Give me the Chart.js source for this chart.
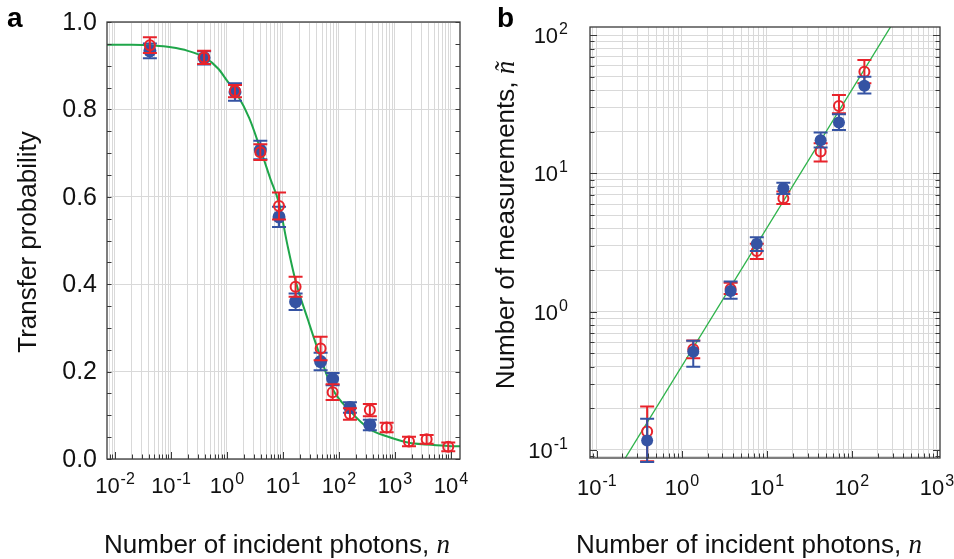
<!DOCTYPE html>
<html>
<head>
<meta charset="utf-8">
<script src="https://cdn.jsdelivr.net/npm/chart.js@4.4.1/dist/chart.umd.min.js"></script>
<style>
  body { margin: 0; background: #fff; }
  #wrap { position: relative; width: 954px; height: 559px; }
  canvas { position: absolute; top: 0; }
</style>
</head>
<body>
<div id="wrap">
  <canvas id="chartA" width="477" height="559" style="left:0"></canvas>
  <canvas id="chartB" width="477" height="559" style="left:477px"></canvas>
</div>
<script>
// ---- panel a: transfer probability vs incident photons
const aRedN = [0.042, 0.39, 1.39, 3.94, 8.5, 16.8, 47, 77, 157, 356, 710, 1780, 3680, 8950]
const aRedP = [0.947, 0.919, 0.842, 0.702, 0.579, 0.394, 0.253, 0.153, 0.103, 0.112, 0.072, 0.040, 0.045, 0.028]
const aRedErr = [0.018, 0.015, 0.014, 0.018, 0.031, 0.023, 0.027, 0.018, 0.013, 0.014, 0.011, 0.011, 0.010, 0.010]
const aBlueN = [0.042, 0.39, 1.39, 3.94, 8.5, 16.8, 47, 77, 157, 356]
const aBlueP = [0.934, 0.918, 0.840, 0.707, 0.554, 0.360, 0.223, 0.183, 0.118, 0.078]
const aBlueErr = [0.017, 0.015, 0.020, 0.021, 0.023, 0.019, 0.020, 0.014, 0.012, 0.012]
const aCurveN = [0.0072, 0.02, 0.05, 0.1, 0.2, 0.4, 0.7, 1, 1.5, 2.5, 4, 6, 8.5, 12, 17, 28, 47, 77, 157, 356, 710, 1780, 3680, 8950, 14500]
const aCurveP = [0.948, 0.948, 0.946, 0.942, 0.934, 0.919, 0.893, 0.866, 0.835, 0.78, 0.707, 0.64, 0.585, 0.49, 0.405, 0.318, 0.232, 0.16, 0.11, 0.068, 0.052, 0.037, 0.033, 0.03, 0.029]
const aYTicks = [0, 0.2, 0.4, 0.6, 0.8, 1.0]
const aYTickLabels = ['0.0', '0.2', '0.4', '0.6', '0.8', '1.0']
const aXTickExps = [-2, -1, 0, 1, 2, 3, 4]

// ---- panel b: number of measurements vs incident photons
const bN = [0.39, 1.36, 3.74, 7.6, 15.6, 42.8, 70.3, 140]
const bRedM = [0.136, 0.535, 1.46, 2.75, 6.6, 14.4, 30.7, 54.4]
const bRedLo = [0.083, 0.46, 1.34, 2.4, 6.0, 12.2, 27.2, 44.8]
const bRedHi = [0.206, 0.62, 1.62, 3.1, 7.4, 16.5, 36.9, 66]
const bBlueM = [0.117, 0.514, 1.41, 3.1, 7.8, 17.4, 23.3, 43]
const bBlueLo = [0.082, 0.40, 1.24, 2.75, 7.1, 15.4, 20.6, 37.9]
const bBlueHi = [0.168, 0.617, 1.65, 3.45, 8.57, 19.8, 26.8, 50]
const bFitN = [0.2, 300]
const bFitM = [0.081, 121]
const bXTickExps = [-1, 0, 1, 2, 3]
const bYTickExps = [-1, 0, 1, 2]

const RED = '#e8232b'
const BLUE = '#3553a3'
const GREEN = '#1fa64a'
const GRID = '#d9d9d9'
const AXIS = '#3a3a3a'
const SANS = '"Liberation Sans", Arial, sans-serif'
const SERIF = '"Liberation Serif", "Times New Roman", serif'
const TICK_SIZE = 22
const SUP_SIZE = 16
const TITLE_SIZE = 26

const logTicks = (min, max) => {
    const out = []
    for (let e = Math.floor(Math.log10(min)); e <= Math.ceil(Math.log10(max)); e++) {
        for (let m = 1; m <= 9; m++) {
            const v = m * Math.pow(10, e)
            if (v >= min && v <= max) out.push({ value: v, major: m === 1 })
        }
    }
    return out
}

const toPoints = (xs, ys) => xs.map((x, i) => ({ x, y: ys[i] }))

// error bars drawn just before each dataset's markers
const errorBars = {
    id: 'errorBars',
    beforeDatasetDraw(chart, args) {
        const ds = chart.data.datasets[args.index]
        if (!ds.lo) return
        const { ctx, scales: { x, y } } = chart
        const cap = ds.capWidth || 7
        ctx.save()
        ctx.strokeStyle = ds.barColor
        ctx.lineWidth = 2
        ds.data.forEach((d, i) => {
            const px = x.getPixelForValue(d.x)
            const y0 = y.getPixelForValue(ds.lo[i])
            const y1 = y.getPixelForValue(ds.hi[i])
            ctx.beginPath()
            ctx.moveTo(px, y0)
            ctx.lineTo(px, y1)
            ctx.moveTo(px - cap, y0)
            ctx.lineTo(px + cap, y0)
            ctx.moveTo(px - cap, y1)
            ctx.lineTo(px + cap, y1)
            ctx.stroke()
        })
        ctx.restore()
    }
}

const drawPow = (ctx, exp, x, y, align) => {
    const base = '10'
    const sup = String(exp)
    ctx.font = `${TICK_SIZE}px ${SANS}`
    const wb = ctx.measureText(base).width
    ctx.font = `${SUP_SIZE}px ${SANS}`
    const ws = ctx.measureText(sup).width
    const total = wb + 1 + ws
    const x0 = align === 'center' ? x - total / 2 : x - total
    ctx.textAlign = 'left'
    ctx.textBaseline = 'alphabetic'
    ctx.font = `${TICK_SIZE}px ${SANS}`
    ctx.fillText(base, x0, y)
    ctx.font = `${SUP_SIZE}px ${SANS}`
    ctx.fillText(sup, x0 + wb + 1, y - 9)
}

const drawTitle = (ctx, text, italic, cx, cy, rotate) => {
    ctx.save()
    ctx.translate(cx, cy)
    if (rotate) ctx.rotate(-Math.PI / 2)
    ctx.textBaseline = 'alphabetic'
    ctx.textAlign = 'left'
    ctx.font = `${TITLE_SIZE}px ${SANS}`
    const w1 = ctx.measureText(text).width
    ctx.font = `italic ${TITLE_SIZE + 1}px ${SERIF}`
    const w2 = ctx.measureText(italic).width
    const x0 = -(w1 + w2) / 2
    ctx.font = `${TITLE_SIZE}px ${SANS}`
    ctx.fillText(text, x0, 0)
    ctx.font = `italic ${TITLE_SIZE + 1}px ${SERIF}`
    ctx.fillText(italic, x0 + w1, 0)
    ctx.restore()
}

const createFramePlugin = (cfg) => ({
    id: 'frame',
    afterDraw(chart) {
        const { ctx, chartArea: a, scales: { x, y } } = chart
        ctx.save()
        ctx.strokeStyle = AXIS
        ctx.lineWidth = 1
        ctx.beginPath()
        x.ticks.forEach(t => {
            const px = Math.round(x.getPixelForValue(t.value)) + 0.5
            const len = t.major ? 7 : 4.5
            ctx.moveTo(px, a.bottom)
            ctx.lineTo(px, a.bottom - len)
        })
        y.ticks.forEach(t => {
            const py = Math.round(y.getPixelForValue(t.value)) + 0.5
            const len = t.major ? 7 : 4.5
            ctx.moveTo(a.left, py)
            ctx.lineTo(a.left + len, py)
            ctx.moveTo(a.right, py)
            ctx.lineTo(a.right - len, py)
        })
        ctx.stroke()

        ctx.lineWidth = 1.3
        ctx.strokeRect(a.left, a.top, a.right - a.left, a.bottom - a.top)

        ctx.fillStyle = '#111'
        cfg.xExps.forEach(e => drawPow(ctx, e, x.getPixelForValue(Math.pow(10, e)), cfg.xLabelBase, 'center'))
        if (cfg.yLabels) {
            ctx.font = `25px ${SANS}`
            ctx.textAlign = 'right'
            ctx.textBaseline = 'middle'
            cfg.yTicks.forEach((v, i) => ctx.fillText(cfg.yLabels[i], a.left - 10, y.getPixelForValue(v) + 1))
        } else {
            cfg.yExps.forEach(e => drawPow(ctx, e, a.left - 22, y.getPixelForValue(Math.pow(10, e)) + 8, 'right'))
        }

        drawTitle(ctx, 'Number of incident photons, ', 'n', cfg.xTitleX, 553, false)
        drawTitle(ctx, cfg.yTitle, cfg.yTitleItalic, cfg.yTitleX, cfg.yTitleY, true)

        ctx.font = `bold 28px ${SANS}`
        ctx.textAlign = 'left'
        ctx.textBaseline = 'alphabetic'
        ctx.fillStyle = '#000'
        ctx.fillText(cfg.letter, cfg.letterX, 27)
        ctx.restore()
    }
})

const baseScale = {
    ticks: { display: false },
    border: { display: false }
}

new Chart(document.getElementById('chartA'), {
    type: 'scatter',
    data: {
        datasets: [
            {
                data: toPoints(aRedN, aRedP),
                lo: aRedP.map((p, i) => p - aRedErr[i]),
                hi: aRedP.map((p, i) => p + aRedErr[i]),
                barColor: RED,
                pointRadius: 5,
                borderWidth: 2,
                borderColor: RED,
                backgroundColor: 'rgba(0,0,0,0)'
            },
            {
                data: toPoints(aBlueN, aBlueP),
                lo: aBlueP.map((p, i) => p - aBlueErr[i]),
                hi: aBlueP.map((p, i) => p + aBlueErr[i]),
                barColor: BLUE,
                pointRadius: 6.5,
                borderWidth: 0,
                backgroundColor: BLUE
            },
            {
                data: toPoints(aCurveN, aCurveP),
                showLine: true,
                pointRadius: 0,
                borderColor: GREEN,
                borderWidth: 2,
                cubicInterpolationMode: 'monotone'
            }
        ]
    },
    options: {
        responsive: false,
        animation: false,
        devicePixelRatio: 1,
        layout: { padding: { left: 107, right: 17, top: 22, bottom: 100 } },
        plugins: { legend: { display: false }, tooltip: { enabled: false } },
        scales: {
            x: {
                ...baseScale,
                type: 'logarithmic',
                min: 0.0072,
                max: 14500,
                afterBuildTicks: (s) => { s.ticks = logTicks(s.min, s.max) },
                afterFit: (s) => { s.height = 0 },
                grid: { color: GRID, drawTicks: false }
            },
            y: {
                ...baseScale,
                type: 'linear',
                min: 0,
                max: 1,
                afterBuildTicks: (s) => {
                    s.ticks = []
                    for (let i = 0; i <= 20; i++) s.ticks.push({ value: i / 20 })
                },
                afterFit: (s) => { s.width = 0 },
                grid: {
                    drawTicks: false,
                    color: (c) => (Math.round(c.tick.value * 20) % 4 === 0 ? GRID : 'rgba(0,0,0,0)')
                }
            }
        }
    },
    plugins: [errorBars, createFramePlugin({
        xExps: aXTickExps,
        xLabelBase: 493,
        yTicks: aYTicks,
        yLabels: aYTickLabels,
        yTitle: 'Transfer probability',
        yTitleItalic: '',
        yTitleX: 36,
        yTitleY: 242,
        xTitleX: 277,
        letter: 'a',
        letterX: 7
    })]
})

new Chart(document.getElementById('chartB'), {
    type: 'scatter',
    data: {
        datasets: [
            {
                data: toPoints(bN, bBlueM),
                lo: bBlueLo,
                hi: bBlueHi,
                barColor: BLUE,
                pointRadius: 6,
                borderWidth: 0,
                backgroundColor: BLUE
            },
            {
                data: toPoints(bN, bRedM),
                lo: bRedLo,
                hi: bRedHi,
                barColor: RED,
                pointRadius: 5,
                borderWidth: 2,
                borderColor: RED,
                backgroundColor: 'rgba(0,0,0,0)'
            },
            {
                data: toPoints(bFitN, bFitM),
                showLine: true,
                pointRadius: 0,
                borderColor: '#2db34a',
                borderWidth: 1.3
            }
        ]
    },
    options: {
        responsive: false,
        animation: false,
        devicePixelRatio: 1,
        layout: { padding: { left: 113, right: 14, top: 27, bottom: 101 } },
        plugins: { legend: { display: false }, tooltip: { enabled: false } },
        scales: {
            x: {
                ...baseScale,
                type: 'logarithmic',
                min: 0.083,
                max: 1085,
                afterBuildTicks: (s) => { s.ticks = logTicks(s.min, s.max) },
                afterFit: (s) => { s.height = 0 },
                grid: { color: GRID, drawTicks: false }
            },
            y: {
                ...baseScale,
                type: 'logarithmic',
                min: 0.0875,
                max: 114.5,
                afterBuildTicks: (s) => { s.ticks = logTicks(s.min, s.max) },
                afterFit: (s) => { s.width = 0 },
                grid: { color: GRID, drawTicks: false }
            }
        }
    },
    plugins: [errorBars, createFramePlugin({
        xExps: bXTickExps,
        xLabelBase: 495,
        yExps: bYTickExps,
        yTitle: 'Number of measurements, ',
        yTitleItalic: 'ñ',
        yTitleX: 37,
        yTitleY: 225,
        xTitleX: 272,
        letter: 'b',
        letterX: 20
    })]
})
</script>
</body>
</html>
